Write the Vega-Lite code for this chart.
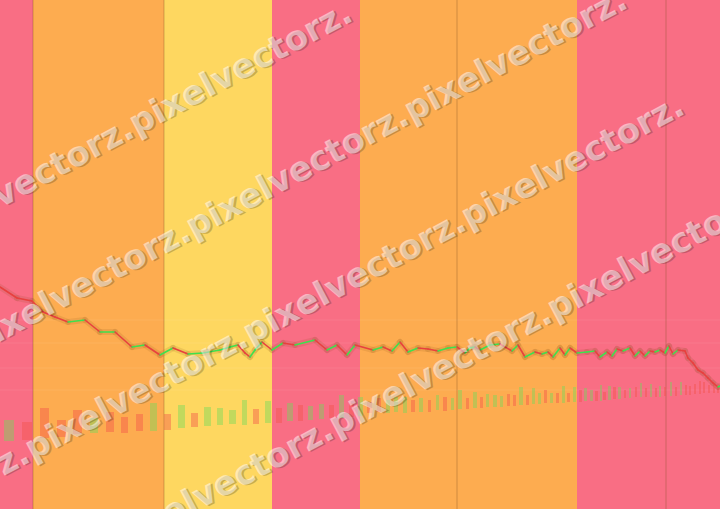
{
  "$schema": "https://vega.github.io/schema/vega-lite/v6.json",
  "width": 720,
  "height": 509,
  "padding": 0,
  "autosize": {"type": "none"},
  "config": {"view": {"stroke": null}},
  "datasets": {
    "bands": [
      {"s": 0, "e": 33, "z": "pink"},
      {"s": 33, "e": 164, "z": "orange"},
      {"s": 164, "e": 272, "z": "yellow"},
      {"s": 272, "e": 360, "z": "pink"},
      {"s": 360, "e": 577, "z": "orange"},
      {"s": 577, "e": 720, "z": "pink"}
    ],
    "seps": [{"x": 33}, {"x": 164}, {"x": 457}, {"x": 666}],
    "grid": [{"v": 189}, {"v": 166}, {"v": 141}, {"v": 119}],
    "price": [
      {"x": 0, "v": 222}, {"x": 17, "v": 211}, {"x": 32, "v": 208}, {"x": 43, "v": 197},
      {"x": 55, "v": 192}, {"x": 68, "v": 187}, {"x": 85, "v": 189}, {"x": 100, "v": 177},
      {"x": 115, "v": 177}, {"x": 132, "v": 162}, {"x": 145, "v": 164}, {"x": 160, "v": 154},
      {"x": 173, "v": 161}, {"x": 188, "v": 155}, {"x": 203, "v": 156}, {"x": 220, "v": 159},
      {"x": 230, "v": 162}, {"x": 238, "v": 164}, {"x": 245, "v": 156}, {"x": 250, "v": 152},
      {"x": 255, "v": 159}, {"x": 262, "v": 167}, {"x": 272, "v": 159}, {"x": 283, "v": 166},
      {"x": 295, "v": 164}, {"x": 315, "v": 169}, {"x": 327, "v": 159}, {"x": 337, "v": 164},
      {"x": 347, "v": 154}, {"x": 355, "v": 164}, {"x": 373, "v": 159}, {"x": 383, "v": 162},
      {"x": 392, "v": 158}, {"x": 400, "v": 167}, {"x": 408, "v": 157}, {"x": 418, "v": 161},
      {"x": 428, "v": 160}, {"x": 438, "v": 158}, {"x": 448, "v": 161}, {"x": 457, "v": 162},
      {"x": 465, "v": 156}, {"x": 470, "v": 161}, {"x": 475, "v": 162}, {"x": 480, "v": 159},
      {"x": 490, "v": 164}, {"x": 500, "v": 165}, {"x": 512, "v": 158}, {"x": 518, "v": 164},
      {"x": 525, "v": 152}, {"x": 535, "v": 157}, {"x": 542, "v": 155}, {"x": 548, "v": 157},
      {"x": 553, "v": 152}, {"x": 560, "v": 161}, {"x": 565, "v": 154}, {"x": 570, "v": 161},
      {"x": 577, "v": 156}, {"x": 587, "v": 157}, {"x": 595, "v": 158}, {"x": 600, "v": 152},
      {"x": 607, "v": 157}, {"x": 612, "v": 153}, {"x": 617, "v": 160}, {"x": 623, "v": 158},
      {"x": 630, "v": 161}, {"x": 635, "v": 153}, {"x": 640, "v": 158}, {"x": 645, "v": 153},
      {"x": 650, "v": 158}, {"x": 655, "v": 157}, {"x": 660, "v": 159}, {"x": 665, "v": 156},
      {"x": 669, "v": 163}, {"x": 673, "v": 155}, {"x": 678, "v": 159}, {"x": 685, "v": 158},
      {"x": 688, "v": 151}, {"x": 693, "v": 146}, {"x": 698, "v": 139}, {"x": 703, "v": 136},
      {"x": 708, "v": 131}, {"x": 713, "v": 126}, {"x": 718, "v": 122}, {"x": 720, "v": 123}
    ],
    "vol": [
      {"a": 4, "b": 14, "hi": 89, "lo": 68, "d": "up"},
      {"a": 22, "b": 32, "hi": 87, "lo": 69, "d": "down"},
      {"a": 40, "b": 49, "hi": 101, "lo": 71, "d": "down"},
      {"a": 57, "b": 66, "hi": 89, "lo": 72, "d": "down"},
      {"a": 73, "b": 82, "hi": 99, "lo": 75, "d": "down"},
      {"a": 90, "b": 98, "hi": 91, "lo": 76, "d": "up"},
      {"a": 106, "b": 114, "hi": 97, "lo": 77, "d": "down"},
      {"a": 121, "b": 128, "hi": 92, "lo": 76, "d": "down"},
      {"a": 136, "b": 143, "hi": 95, "lo": 78, "d": "down"},
      {"a": 150, "b": 157, "hi": 106, "lo": 78, "d": "up"},
      {"a": 164, "b": 171, "hi": 95, "lo": 79, "d": "down"},
      {"a": 178, "b": 185, "hi": 104, "lo": 81, "d": "up"},
      {"a": 191, "b": 198, "hi": 96, "lo": 82, "d": "down"},
      {"a": 204, "b": 211, "hi": 102, "lo": 83, "d": "up"},
      {"a": 217, "b": 223, "hi": 101, "lo": 84, "d": "up"},
      {"a": 229, "b": 236, "hi": 99, "lo": 85, "d": "up"},
      {"a": 242, "b": 247, "hi": 109, "lo": 84, "d": "up"},
      {"a": 253, "b": 259, "hi": 100, "lo": 85, "d": "down"},
      {"a": 265, "b": 271, "hi": 108, "lo": 86, "d": "up"},
      {"a": 276, "b": 282, "hi": 101, "lo": 86, "d": "down"},
      {"a": 287, "b": 293, "hi": 106, "lo": 88, "d": "up"},
      {"a": 298, "b": 303, "hi": 104, "lo": 88, "d": "down"},
      {"a": 308, "b": 313, "hi": 103, "lo": 89, "d": "up"},
      {"a": 319, "b": 324, "hi": 105, "lo": 90, "d": "up"},
      {"a": 329, "b": 334, "hi": 104, "lo": 91, "d": "down"},
      {"a": 339, "b": 344, "hi": 114, "lo": 91, "d": "up"},
      {"a": 349, "b": 354, "hi": 106, "lo": 92, "d": "down"},
      {"a": 358, "b": 363, "hi": 112, "lo": 93, "d": "up"},
      {"a": 367, "b": 372, "hi": 107, "lo": 96, "d": "down"},
      {"a": 377, "b": 381, "hi": 111, "lo": 97, "d": "down"},
      {"a": 386, "b": 390, "hi": 109, "lo": 96, "d": "up"},
      {"a": 394, "b": 398, "hi": 112, "lo": 97, "d": "up"},
      {"a": 403, "b": 407, "hi": 112, "lo": 96, "d": "up"},
      {"a": 411, "b": 415, "hi": 109, "lo": 97, "d": "down"},
      {"a": 419, "b": 423, "hi": 111, "lo": 97, "d": "up"},
      {"a": 428, "b": 431, "hi": 109, "lo": 97, "d": "down"},
      {"a": 436, "b": 439, "hi": 114, "lo": 99, "d": "up"},
      {"a": 443, "b": 447, "hi": 112, "lo": 98, "d": "down"},
      {"a": 451, "b": 454, "hi": 111, "lo": 99, "d": "up"},
      {"a": 458, "b": 462, "hi": 119, "lo": 100, "d": "up"},
      {"a": 466, "b": 469, "hi": 111, "lo": 100, "d": "down"},
      {"a": 473, "b": 477, "hi": 117, "lo": 101, "d": "up"},
      {"a": 480, "b": 483, "hi": 112, "lo": 101, "d": "down"},
      {"a": 486, "b": 489, "hi": 115, "lo": 102, "d": "up"},
      {"a": 493, "b": 497, "hi": 114, "lo": 102, "d": "up"},
      {"a": 500, "b": 503, "hi": 113, "lo": 102, "d": "up"},
      {"a": 507, "b": 510, "hi": 115, "lo": 103, "d": "down"},
      {"a": 513, "b": 516, "hi": 114, "lo": 103, "d": "down"},
      {"a": 519, "b": 523, "hi": 122, "lo": 104, "d": "up"},
      {"a": 526, "b": 529, "hi": 114, "lo": 104, "d": "down"},
      {"a": 532, "b": 535, "hi": 121, "lo": 105, "d": "up"},
      {"a": 538, "b": 541, "hi": 116, "lo": 105, "d": "up"},
      {"a": 544, "b": 547, "hi": 119, "lo": 106, "d": "down"},
      {"a": 550, "b": 553, "hi": 116, "lo": 106, "d": "up"},
      {"a": 556, "b": 559, "hi": 116, "lo": 106, "d": "down"},
      {"a": 562, "b": 565, "hi": 123, "lo": 106, "d": "up"},
      {"a": 567, "b": 570, "hi": 116, "lo": 107, "d": "down"},
      {"a": 573, "b": 576, "hi": 122, "lo": 107, "d": "up"},
      {"a": 579, "b": 582, "hi": 119, "lo": 107, "d": "down"},
      {"a": 584, "b": 587, "hi": 121, "lo": 108, "d": "up"},
      {"a": 590, "b": 593, "hi": 119, "lo": 108, "d": "up"},
      {"a": 595, "b": 598, "hi": 118, "lo": 108, "d": "down"},
      {"a": 600, "b": 602, "hi": 124, "lo": 108, "d": "up"},
      {"a": 603, "b": 606, "hi": 117, "lo": 109, "d": "down"},
      {"a": 608, "b": 611, "hi": 123, "lo": 109, "d": "up"},
      {"a": 613, "b": 616, "hi": 122, "lo": 110, "d": "down"},
      {"a": 618, "b": 621, "hi": 122, "lo": 110, "d": "up"},
      {"a": 624, "b": 626, "hi": 119, "lo": 111, "d": "down"},
      {"a": 629, "b": 631, "hi": 121, "lo": 111, "d": "up"},
      {"a": 635, "b": 637, "hi": 122, "lo": 112, "d": "down"},
      {"a": 640, "b": 642, "hi": 126, "lo": 112, "d": "up"},
      {"a": 645, "b": 647, "hi": 121, "lo": 112, "d": "down"},
      {"a": 650, "b": 652, "hi": 125, "lo": 112, "d": "up"},
      {"a": 655, "b": 657, "hi": 121, "lo": 112, "d": "down"},
      {"a": 659, "b": 661, "hi": 123, "lo": 112, "d": "up"},
      {"a": 664, "b": 666, "hi": 122, "lo": 113, "d": "down"},
      {"a": 670, "b": 672, "hi": 127, "lo": 113, "d": "up"},
      {"a": 675, "b": 677, "hi": 122, "lo": 113, "d": "down"},
      {"a": 680, "b": 682, "hi": 127, "lo": 114, "d": "up"},
      {"a": 685, "b": 687, "hi": 124, "lo": 114, "d": "down"},
      {"a": 689, "b": 691, "hi": 123, "lo": 114, "d": "down"},
      {"a": 694, "b": 696, "hi": 125, "lo": 115, "d": "down"},
      {"a": 699, "b": 701, "hi": 128, "lo": 115, "d": "down"},
      {"a": 703, "b": 705, "hi": 127, "lo": 116, "d": "down"},
      {"a": 708, "b": 710, "hi": 124, "lo": 116, "d": "down"},
      {"a": 713, "b": 715, "hi": 126, "lo": 116, "d": "down"},
      {"a": 717, "b": 719, "hi": 122, "lo": 116, "d": "down"}
    ],
    "wm": [
      {"x": 350, "v": 498, "t": "pixelvectorz.pixelvectorz.pixelvectorz.pixelvectorz.pixelvectorz."},
      {"x": 625, "v": 511, "t": "pixelvectorz.pixelvectorz.pixelvectorz.pixelvectorz.pixelvectorz."},
      {"x": 682, "v": 405, "t": "pixelvectorz.pixelvectorz.pixelvectorz.pixelvectorz.pixelvectorz."},
      {"x": 768, "v": 313, "t": "pixelvectorz.pixelvectorz.pixelvectorz.pixelvectorz.pixelvectorz."}
    ]
  },
  "layer": [
    {
      "data": {"name": "bands"},
      "mark": {"type": "rect"},
      "encoding": {
        "x": {"field": "s", "type": "quantitative", "scale": {"domain": [0, 720], "nice": false, "zero": false}, "axis": null},
        "x2": {"field": "e"},
        "color": {
          "condition": [
            {"test": "datum.z == 'pink'", "value": "#f96e84"},
            {"test": "datum.z == 'yellow'", "value": "#fed760"}
          ],
          "value": "#fdac50"
        }
      }
    },
    {
      "data": {"name": "grid"},
      "mark": {"type": "rule", "color": "#ffffff", "opacity": 0.08, "strokeWidth": 1},
      "encoding": {
        "y": {"field": "v", "type": "quantitative", "scale": {"domain": [0, 509], "nice": false, "zero": false}, "axis": null}
      }
    },
    {
      "data": {"name": "seps"},
      "mark": {"type": "rule", "color": "#7a4a20", "opacity": 0.35, "strokeWidth": 1},
      "encoding": {
        "x": {"field": "x", "type": "quantitative"}
      }
    },
    {
      "data": {"name": "vol"},
      "mark": {"type": "rect", "opacity": 0.42},
      "encoding": {
        "x": {"field": "a", "type": "quantitative"},
        "x2": {"field": "b"},
        "y": {"field": "hi", "type": "quantitative"},
        "y2": {"field": "lo"},
        "color": {"condition": {"test": "datum.d == 'up'", "value": "#6ddc5a"}, "value": "#f2524a"}
      }
    },
    {
      "data": {"name": "price"},
      "transform": [
        {"window": [{"op": "lead", "field": "x", "as": "x2"}, {"op": "lead", "field": "v", "as": "v2"}], "sort": [{"field": "x"}]},
        {"filter": "datum.x2 != null"}
      ],
      "mark": {"type": "rule", "color": "#7a4a10", "opacity": 0.12, "strokeWidth": 6, "strokeCap": "round"},
      "encoding": {
        "x": {"field": "x", "type": "quantitative"},
        "x2": {"field": "x2"},
        "y": {"field": "v", "type": "quantitative"},
        "y2": {"field": "v2"}
      }
    },
    {
      "data": {"name": "price"},
      "transform": [
        {"window": [{"op": "lead", "field": "x", "as": "x2"}, {"op": "lead", "field": "v", "as": "v2"}], "sort": [{"field": "x"}]},
        {"filter": "datum.x2 != null"}
      ],
      "mark": {"type": "rule", "strokeWidth": 1.6, "strokeCap": "round"},
      "encoding": {
        "x": {"field": "x", "type": "quantitative"},
        "x2": {"field": "x2"},
        "y": {"field": "v", "type": "quantitative"},
        "y2": {"field": "v2"},
        "color": {"condition": {"test": "datum.v2 >= datum.v", "value": "#3ee04e"}, "value": "#e8403e"}
      }
    },
    {
      "data": {"name": "wm"},
      "mark": {"type": "text", "clip": true, "align": "right", "baseline": "middle", "angle": -28, "font": "DejaVu Sans", "fontWeight": "bold", "fontSize": 34, "color": "#000000", "opacity": 0.2, "dx": 1.5, "dy": 1.5},
      "encoding": {
        "x": {"field": "x", "type": "quantitative"},
        "y": {"field": "v", "type": "quantitative"},
        "text": {"field": "t"}
      }
    },
    {
      "data": {"name": "wm"},
      "mark": {"type": "text", "clip": true, "align": "right", "baseline": "middle", "angle": -28, "font": "DejaVu Sans", "fontWeight": "bold", "fontSize": 34, "color": "#ffffff", "opacity": 0.5},
      "encoding": {
        "x": {"field": "x", "type": "quantitative"},
        "y": {"field": "v", "type": "quantitative"},
        "text": {"field": "t"}
      }
    }
  ]
}
